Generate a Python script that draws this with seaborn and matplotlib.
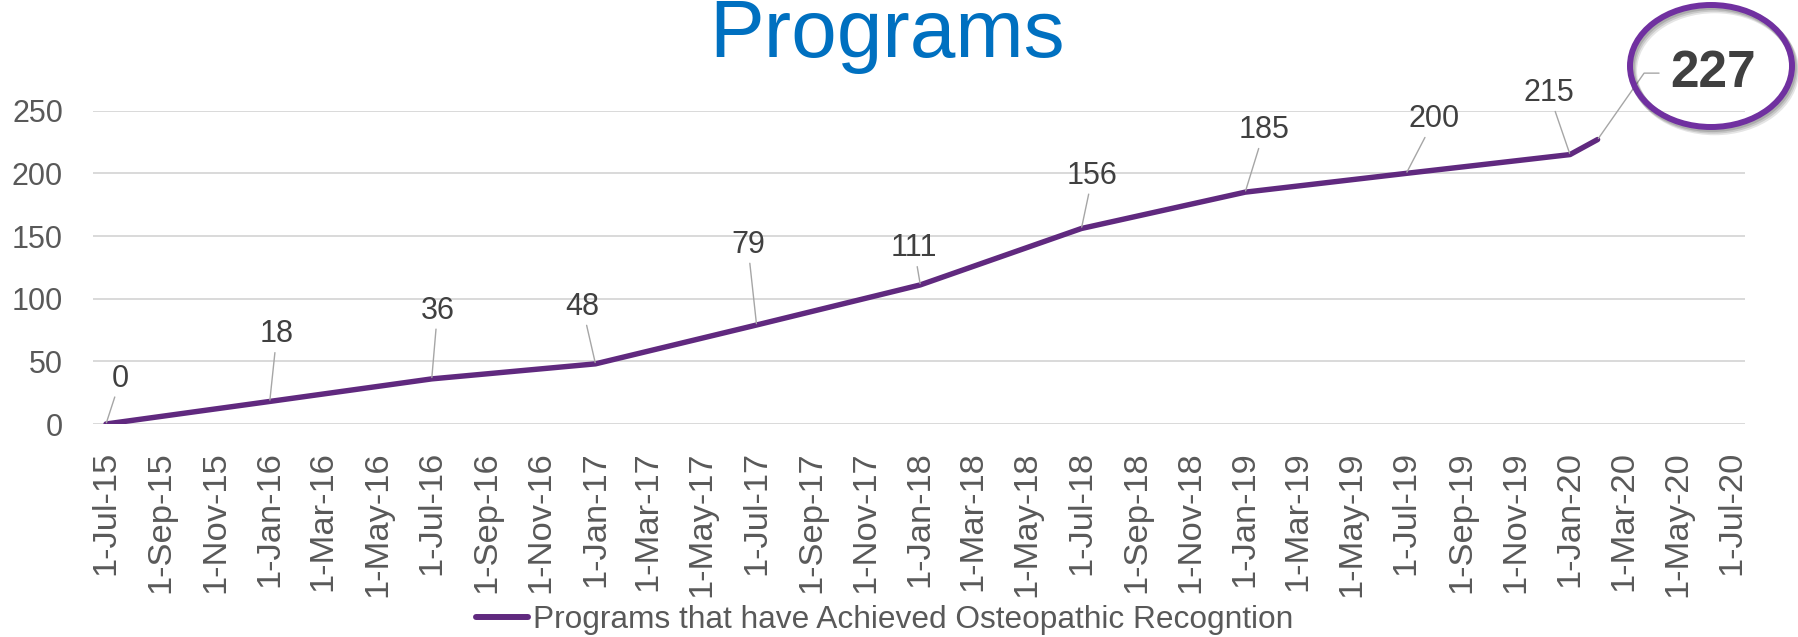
import matplotlib
matplotlib.use("Agg")
import matplotlib.pyplot as plt
import matplotlib.dates as mdates
from matplotlib.patches import Ellipse
from matplotlib.lines import Line2D
from matplotlib.ticker import FuncFormatter
import pandas as pd
import seaborn as sns

# ---- data ----
dates = ["2015-07-01", "2016-01-01", "2016-07-01", "2017-01-01", "2017-07-01",
         "2018-01-01", "2018-07-01", "2019-01-01", "2019-07-01", "2020-01-01",
         "2020-02-01"]
programs = [0, 18, 36, 48, 79, 111, 156, 185, 200, 215, 227]
series_name = "Programs that have Achieved Osteopathic Recogntion"
title = "Programs"
y_ticks = [0, 50, 100, 150, 200, 250]
tick_start, tick_end = "2015-07-01", "2020-07-01"

# label offsets (points) relative to each data point
label_offsets = [(10.6, 32.6), (5.1, 48.3), (4.2, 49), (-9.4, 40.9), (-6.3, 57.6),
                 (-4.5, 26.3), (8, 37.9), (13.8, 44.6), (20.3, 39), (-15.2, 44.2),
                 (83.4, 47.8)]

df = pd.DataFrame({"date": pd.to_datetime(dates), "value": programs})

sns.set_theme(style="white")
plt.rcParams["font.family"] = ["Liberation Sans", "DejaVu Sans"]

W, H = 1798, 637
fig = plt.figure(figsize=(W / 100, H / 100), dpi=100)
ax = fig.add_axes([93 / W, 1 - 424 / H, (1745 - 93) / W, (424 - 110.7) / H])

purple = "#60297F"
sns.lineplot(data=df, x="date", y="value", ax=ax, color=purple, lw=3.9,
             label=series_name, solid_capstyle="round", solid_joinstyle="round",
             zorder=3)

pad = pd.Timedelta(days=14.6)
ax.set_xlim(pd.Timestamp(tick_start) - pad, pd.Timestamp(tick_end) + pad)
ax.set_ylim(0, 250)
ax.set_yticks(y_ticks)
ticks = pd.date_range(tick_start, tick_end, freq="2MS")
ax.set_xticks(ticks)
ax.xaxis.set_major_formatter(FuncFormatter(
    lambda v, p: (lambda d: f"{d.day}-{d:%b-%y}")(mdates.num2date(v))))
ax.tick_params(axis="x", labelrotation=90, labelsize=24.8, colors="#595959",
               length=0, pad=19.5)
ax.tick_params(axis="y", labelsize=22, colors="#595959", length=0, pad=21.6)
ax.set_xlabel("")
ax.set_ylabel("")
for s in ax.spines.values():
    s.set_visible(False)
ax.grid(axis="y", color="#D9D9D9", lw=1.4)
ax.grid(axis="x", visible=False)
ax.set_axisbelow(True)
ax.get_legend().remove()

# data labels
for i, (d, v) in enumerate(zip(df["date"], df["value"])):
    dx, dy = label_offsets[i]
    last = i == len(programs) - 1
    if last:
        ax.annotate(str(v), xy=(d, v), xytext=(dx, dy), textcoords="offset points",
                    ha="center", va="center", fontsize=37, fontweight="bold",
                    color="#404040", annotation_clip=False, zorder=5,
                    arrowprops=dict(arrowstyle="-", color="#A6A6A6", lw=1.0,
                                    relpos=(0, 0.5), shrinkA=6, shrinkB=1,
                                    connectionstyle="angle,angleA=0,angleB=55,rad=0"))
    else:
        ax.annotate(str(v), xy=(d, v), xytext=(dx, dy), textcoords="offset points",
                    ha="center", va="center", fontsize=22, color="#404040",
                    annotation_clip=False, zorder=5,
                    arrowprops=dict(arrowstyle="-", color="#A6A6A6", lw=1.0,
                                    shrinkA=0, shrinkB=1))

# highlight ellipse with soft shadow
cx, cy, ew, eh = 1711 / W, 1 - 66 / H, 162 / W, 122 / H
for k, a in [(3, 0.10), (2, 0.12), (1, 0.14)]:
    fig.add_artist(Ellipse((cx + k * 1.2 / W, cy - k * 1.6 / H), ew, eh,
                           transform=fig.transFigure, fill=False,
                           ec="black", lw=5, alpha=a))
fig.add_artist(Ellipse((cx, cy), ew, eh, transform=fig.transFigure, fill=False,
                       ec="#7030A0", lw=4.3))

# title
fig.text(887 / W, 1 - 57 / H, title, ha="center", va="baseline",
         fontsize=59, color="#0070C0")

# legend
h = Line2D([0], [0], color=purple, lw=4.3, solid_capstyle="round")
leg = fig.legend([h], [series_name], loc="center", bbox_to_anchor=(0.492, 1 - 620 / H),
                 frameon=False, fontsize=22.8, handlelength=1.65, handletextpad=0.15,
                 borderpad=0, borderaxespad=0)
for t in leg.get_texts():
    t.set_color("#595959")

fig.savefig("out.png", dpi=100)
